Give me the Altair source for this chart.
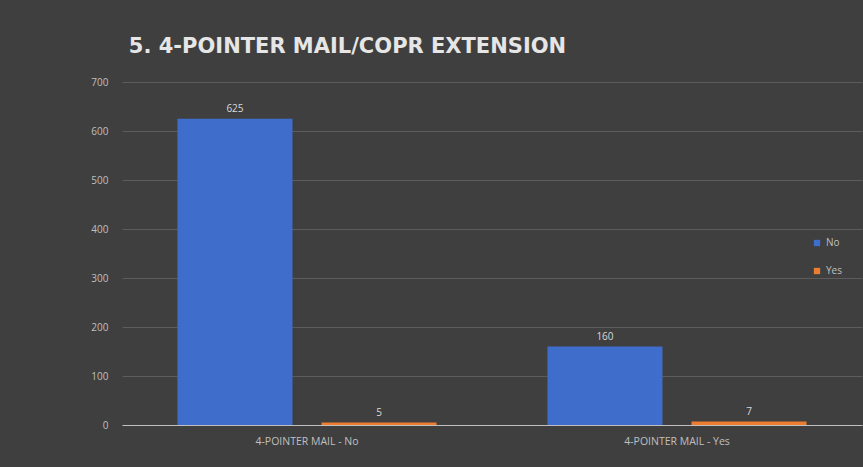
import altair as alt
import pandas as pd

categories = ["4-POINTER MAIL - No", "4-POINTER MAIL - Yes"]
series = ["No", "Yes"]
values_no = [625, 160]
values_yes = [5, 7]
y_ticks = [0, 100, 200, 300, 400, 500, 600, 700]

rows = []
for i, c in enumerate(categories):
    rows.append({"category": c, "series": "No", "value": values_no[i]})
    rows.append({"category": c, "series": "Yes", "value": values_yes[i]})
df = pd.DataFrame(rows)

label_color = "#bfbfbf"
x = alt.X("category:N", sort=categories, title=None,
          scale=alt.Scale(paddingInner=0, paddingOuter=0),
          axis=alt.Axis(labelAngle=0, labelColor=label_color, labelFontSize=10.5,
                        labelFont="Open Sans", ticks=False, domain=True,
                        domainColor="#bfbfbf", domainWidth=1, labelPadding=11,
                        grid=False))
xo = alt.XOffset("series:N", sort=series,
                 scale=alt.Scale(paddingInner=0.2014, paddingOuter=0.385))
y = alt.Y("value:Q", title=None,
          scale=alt.Scale(domain=[0, 700], nice=False),
          axis=alt.Axis(values=y_ticks, labelColor=label_color, labelFontSize=10,
                        labelFont="Open Sans", ticks=False, domain=False,
                        gridColor="#5c5c5c", gridWidth=1, labelPadding=14))

base = alt.Chart(df).encode(x=x, xOffset=xo, y=y)

bars = base.mark_bar().encode(
    color=alt.Color("series:N", sort=series,
                    scale=alt.Scale(domain=series, range=["#3f6dcb", "#ed7d31"]),
                    legend=alt.Legend(title=None, orient="none", legendX=690, legendY=156,
                                      symbolType="square", symbolSize=40,
                                      labelColor=label_color, labelFontSize=10,
                                      labelFont="Open Sans", rowPadding=18,
                                      symbolStrokeWidth=0))
)

labels = base.mark_text(dy=-10, color="#d9d9d9", fontSize=10, font="Open Sans").encode(
    text=alt.Text("value:Q")
)

chart = alt.layer(bars, labels).properties(
    width=740, height=343,
    title=alt.TitleParams("5. 4-POINTER MAIL/COPR EXTENSION", anchor="start", dx=38,
                          offset=20, font="DejaVu Sans", fontSize=21, fontWeight="bold",
                          color="#e6e6e6"),
    background="#3f3f3f",
    autosize=alt.AutoSizeParams(type="none"),
    padding={"left": 122, "top": 82, "right": 1, "bottom": 42},
).configure_view(stroke=None)

chart.save("out.html", embed_options={"renderer": "svg", "actions": False})
